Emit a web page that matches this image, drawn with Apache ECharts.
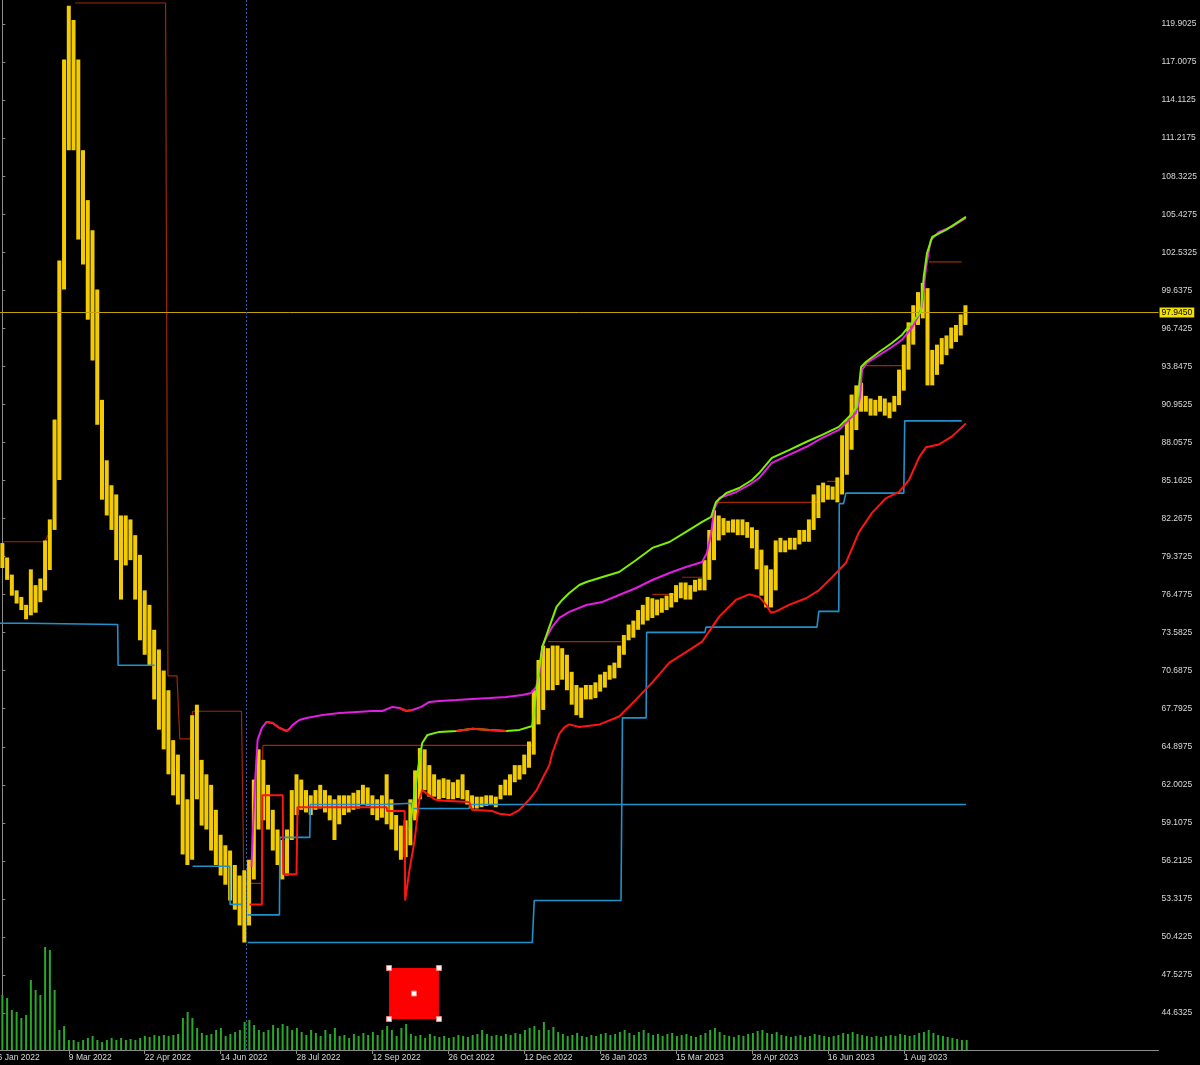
<!DOCTYPE html>
<html>
<head>
<meta charset="utf-8">
<script src="https://cdn.jsdelivr.net/npm/echarts@6/dist/echarts.min.js"></script>
<style>
html,body{margin:0;padding:0;background:#000;}
#c{width:1200px;height:1065px;}
</style>
</head>
<body>
<div id="c"></div>
<script>
// ---- price bars (one bar per slot, roughly two sessions each) ----
const priceHigh = [
 80.4,79.3,78.0,76.8,76.3,75.7,78.4,77.2,77.7,80.6,
 82.2,89.8,101.9,117.2,121.3,120.2,117.2,110.3,106.5,104.2,
 99.7,91.3,86.7,84.8,84.1,82.5,82.5,82.2,81.0,79.5,
 76.8,75.7,73.8,72.3,70.7,69.2,65.4,64.3,62.8,60.9,
 67.3,68.1,63.9,62.8,62.0,60.1,58.2,57.4,57.0,55.9,
 55.1,55.5,56.3,62.4,64.7,63.9,62.0,60.1,58.6,57.8,
 58.6,61.6,62.8,62.4,61.6,61.2,61.6,62.0,61.6,61.2,
 60.9,61.2,61.2,61.2,61.4,61.6,62.0,61.8,61.2,60.9,
 61.2,62.8,60.9,59.7,58.9,59.3,60.9,63.1,64.8,64.7,
 63.5,62.8,62.4,62.5,62.4,62.2,62.4,62.8,61.6,61.2,
 61.1,61.1,61.2,61.2,61.1,62.0,62.4,62.8,63.5,63.5,
 64.3,65.3,69.2,71.5,72.6,72.4,72.6,72.6,72.4,71.9,
 70.6,69.6,69.4,69.6,69.6,69.8,70.4,70.6,71.1,71.3,
 72.6,73.4,74.2,74.5,75.3,75.7,76.3,76.2,76.1,76.2,
 76.4,76.6,77.2,77.4,77.4,77.2,77.6,77.7,79.1,81.4,
 82.9,82.5,82.3,82.1,82.2,82.2,82.2,82.0,81.6,81.4,
 79.9,78.7,78.4,80.6,80.8,80.6,80.8,80.8,81.4,81.4,
 82.2,84.1,84.8,85.0,84.8,84.7,85.4,88.6,89.8,91.7,
 92.4,92.6,91.6,91.4,91.3,91.6,91.4,91.1,91.6,93.6,
 95.5,97.2,98.5,99.5,100.2,99.8,95.1,95.5,96.0,96.2,
 96.8,97.0,97.8,98.5
];
const priceLow = [
 78.5,77.6,76.4,75.8,75.3,74.6,74.9,75.1,75.9,76.8,
 78.35,81.4,85.2,99.7,110.3,110.3,103.5,101.6,97.4,94.3,
 89.4,83.7,82.5,81.4,79.1,76.1,78.7,79.1,76.1,73.0,
 71.9,71.1,68.5,66.2,64.7,62.8,61.2,60.5,56.7,55.9,
 56.3,60.9,58.9,58.6,57.0,55.9,55.1,54.4,53.2,52.5,
 51.3,50.0,51.3,54.8,58.6,59.3,58.6,57.0,55.9,54.8,
 55.1,57.8,59.7,60.1,59.9,59.7,60.1,60.2,59.9,59.3,
 57.8,59.0,59.7,59.9,60.1,60.2,60.5,60.4,59.7,59.3,
 59.5,59.0,58.6,57.0,56.3,56.5,57.4,59.3,60.9,61.6,
 61.1,61.1,60.9,61.0,60.9,60.9,61.0,60.9,60.5,60.2,
 60.2,60.3,60.4,60.5,60.3,60.9,61.2,61.2,62.2,62.4,
 62.8,63.3,64.3,66.6,67.7,69.2,69.2,69.6,70.0,69.2,
 68.1,67.3,67.1,68.5,68.5,68.6,69.1,69.4,70.0,70.1,
 70.9,71.9,73.0,73.2,73.8,74.2,74.5,74.7,74.9,75.1,
 75.3,75.5,75.9,76.2,76.1,76.1,76.7,76.8,76.8,77.6,
 79.1,80.6,81.0,81.2,81.2,81.0,81.0,80.8,80.0,78.4,
 76.4,75.5,75.5,76.8,79.7,79.7,79.9,79.9,80.3,80.5,
 80.5,81.4,82.3,83.5,83.7,83.7,83.5,84.1,85.6,87.5,
 89.0,90.4,90.4,90.1,90.1,90.4,90.1,89.9,90.4,90.9,
 92.0,93.6,95.5,97.0,97.5,92.4,92.4,93.2,94.0,94.7,
 95.2,95.7,96.2,97.0
];
const volume = [
 55,52,40,38,32,35,70,60,55,103,
 100,60,20,24,10,10,8,10,12,14,
 10,8,10,12,10,12,10,11,10,12,
 14,13,15,14,15,14,15,16,32,38,
 32,22,17,15,16,20,22,14,16,18,
 20,28,30,25,20,18,20,25,22,26,
 24,20,22,18,15,20,17,14,20,16,
 22,14,15,12,16,14,17,15,18,15,
 20,24,20,14,22,26,16,14,15,12,
 16,14,13,14,12,13,15,14,13,15,
 16,20,16,14,15,14,16,15,17,16,
 20,22,24,20,28,20,23,18,16,14,
 15,17,14,13,15,14,16,17,15,16,
 18,20,17,15,18,20,17,15,16,14,
 16,17,14,15,16,14,13,15,17,20,
 22,18,15,14,13,15,14,16,17,19,
 20,17,16,18,15,14,13,14,15,13,
 14,16,15,14,13,14,15,17,16,18,
 16,15,14,13,14,13,14,15,14,16,
 15,14,15,17,18,20,17,15,14,13,
 12,11,10,10
];
const lastPrice = 97.945;
const cursorIndex = 51.5;

// ---- axis ticks ----
const priceTicks = [44.6325,47.5275,50.4225,53.3175,56.2125,59.1075,62.0025,64.8975,67.7925,70.6875,
 73.5825,76.4775,79.3725,82.2675,85.1625,88.0575,90.9525,93.8475,96.7425,99.6375,
 102.5325,105.4275,108.3225,111.2175,114.1125,117.0075,119.9025];
const dateTickIndex = [14,30,46,62,78,94,110,126,142,158,174,190];
const dateTickLabels = ['9 Mar 2022','22 Apr 2022','14 Jun 2022','28 Jul 2022','12 Sep 2022',
 '26 Oct 2022','12 Dec 2022','26 Jan 2023','15 Mar 2023','28 Apr 2023','16 Jun 2023','1 Aug 2023'];
const firstTick = {index:-2, label:'26 Jan 2022'};

// ---- indicator lines: [bar index, price] ----
const resistanceSegments = [
 [[0.2,80.5],[9.0,80.5],[9.6,81.0]],
 [[15.3,121.5],[34.4,121.5],[34.9,70.3],[36.8,70.3],[37.4,65.5],[39.6,65.5],[40.1,67.6],[50.4,67.6],[50.9,54.5],[54.7,54.5],[54.9,65.0],[111.7,65.0]],
 [[115.0,72.9],[130.4,72.9]],
 [[137.0,76.5],[142.0,76.5]],
 [[143.3,77.8],[147.5,77.8]],
 [[150.4,83.5],[171.7,83.5]],
 [[173.8,85.1],[176.3,85.1]],
 [[181.0,93.9],[189.6,93.9]],
 [[195.3,101.8],[202.2,101.8]]
];
const supportSegments = [
 [[-0.5,74.3],[5.2,74.3],[5.5,74.2],[24.3,74.2],[24.4,71.1],[32.1,71.1]],
 [[40.1,55.8],[47.9,55.8],[48.0,52.9],[50.4,52.9]],
 [[51.7,52.1],[58.4,52.1],[58.5,58.0],[64.8,58.0],[64.9,60.5],[80.1,60.5],[80.2,60.6],[86.2,60.6],[86.3,60.2],[98.4,60.2],[98.5,60.5],[203.1,60.5]],
 [[51.7,50.0],[111.7,50.0],[112.1,53.2],[130.4,53.2],[130.7,67.1],[135.7,67.1],[135.8,73.6],[148.1,73.6],[148.3,74.0],[171.7,74.0],[172.1,75.2],[176.3,75.2],[176.4,83.4],[177.3,83.4],[177.8,84.2],[190.0,84.2],[190.2,89.7],[202.2,89.7]]
];
const trailRed = [[52.1,52.9],[54.7,52.9],[54.8,61.2],[59.1,61.2],[59.2,55.2],[62.0,55.2],[62.2,60.3],[81.0,60.3],[81.1,60.0],[84.8,60.0],[84.9,53.2],
 [85.8,55.5],[86.9,57.8],[87.9,60.9],[88.5,61.6],[90.0,61.2],[91.1,60.9],[92.1,60.8],[98.4,60.7],[99.0,60.1],[103.3,60.0],[104.8,59.8],[107.0,59.7],
 [109.0,60.1],[111.1,60.9],[112.6,61.6],[114.3,62.8],[115.3,63.5],[115.9,64.4],[117.4,65.9],[118.5,66.4],[119.5,66.6],[121.6,66.4],[125.9,66.6],
 [130.0,67.2],[133.6,68.5],[137.0,69.8],[140.6,71.3],[144.1,72.1],[147.5,72.9],[151.1,74.8],[154.7,76.1],[157.4,76.5],[159.5,76.3],[161.0,75.7],
 [162.0,75.1],[163.1,75.2],[165.8,75.7],[169.4,76.2],[172.1,76.8],[174.9,77.8],[177.8,78.9],[180.5,81.2],[183.3,82.7],[186.2,83.8],[189.0,84.3],
 [191.1,85.2],[193.2,86.9],[194.7,87.7],[197.4,87.9],[200.1,88.5],[203.1,89.5]];
const upperMagenta = [[52.5,55.75],[53.2,61.84],[53.8,65.42],[54.7,66.33],[55.7,66.79],[57.0,66.71],[58.4,66.33],[59.9,66.10],[60.5,66.26],[61.2,66.56],
 [62.6,66.94],[64.1,67.09],[67.5,67.32],[71.1,67.47],[74.7,67.55],[78.0,67.62],[80.1,67.62],[82.2,67.93],[83.7,67.85],[85.2,67.62],[86.4,67.70],
 [88.3,67.93],[90.0,68.31],[92.1,68.38],[95.7,68.46],[99.1,68.54],[102.7,68.61],[106.2,68.69],[109.6,68.84],[111.5,68.99],[112.5,69.45],[113.2,70.52],
 [113.8,72.49],[114.7,73.26],[115.9,74.02],[117.4,74.70],[119.5,75.16],[123.1,75.69],[126.5,75.92],[130.0,76.45],[133.6,76.98],[137.0,77.59],
 [140.6,78.12],[144.1,78.58],[147.5,78.96],[148.5,79.65],[149.4,81.17],[150.0,82.92],[151.1,83.83],[154.7,84.29],[157.4,84.82],[159.5,85.35],
 [162.2,86.50],[165.8,87.11],[169.4,87.71],[172.8,88.40],[176.3,89.01],[178.4,89.77],[179.9,90.30],[180.8,91.52],[181.2,93.57],[182.2,94.11],
 [184.8,94.71],[187.5,95.32],[189.6,95.86],[191.7,96.77],[193.2,97.76],[193.8,98.37],[194.7,101.41],[195.7,103.47],[197.4,104.08],[200.1,104.46],[203.1,105.14]];
const upperGreen = [[85.8,58.57],[86.9,61.38],[87.9,63.89],[88.5,65.19],[89.6,65.80],[92.1,66.03],[95.7,66.10],[99.1,66.26],[102.7,66.18],[106.2,66.10],
 [109.0,66.18],[111.7,66.48],[112.5,68.99],[113.2,70.97],[113.8,72.49],[115.3,74.02],[116.8,75.54],[118.0,76.07],[119.5,76.60],[121.6,77.21],
 [123.1,77.44],[126.5,77.82],[130.0,78.20],[133.6,79.11],[137.0,80.03],[140.6,80.48],[144.1,81.25],[147.5,82.01],[149.4,82.39],[150.4,83.53],
 [152.6,84.21],[155.3,84.59],[158.0,85.20],[159.5,85.73],[162.2,86.88],[165.8,87.48],[169.4,88.09],[172.8,88.63],[176.3,89.24],[178.4,89.99],
 [180.1,90.76],[181.0,93.80],[182.0,94.18],[184.8,94.94],[187.5,95.63],[189.6,96.24],[191.7,97.15],[193.6,97.99],[194.2,100.65],[194.9,102.48],
 [196.0,103.70],[198.9,104.23],[203.1,105.22]];
const bandRedParts = [
 [[55.7,66.79],[57.0,66.71],[58.4,66.33],[59.9,66.10],[60.5,66.26]],
 [[83.7,67.85],[85.2,67.62],[86.4,67.70]],
 [[95.7,66.10],[99.1,66.26],[102.7,66.18],[106.2,66.10]]
];
// drawing object (rectangle) in the volume pane: [bar index, volume]
const rectObject = [[81.4,82],[91.9,31]];

// ---------------------------------------------------------------
const bars = priceLow.map((lo, i) => [i, lo, priceHigh[i]]);
const vols = volume.map((v, i) => [i, v]);
const FONT = 'Liberation Sans, Arial, sans-serif';
const labelFont = {color:'#d8d8d8', fontSize:8.5, fontFamily:FONT};

function line(data, color, width, z) {
  return {type:'line', xAxisIndex:0, yAxisIndex:0, data:data, symbol:'none', showSymbol:false,
    lineStyle:{color:color, width:width}, z:z, silent:true, animation:false, clip:true};
}

const series = [];
resistanceSegments.forEach(s => series.push(line(s, '#a02800', 1.2, 1)));
series.push({
  type:'custom', xAxisIndex:0, yAxisIndex:0, data:bars, z:2, clip:true, silent:true,
  encode:{x:0, y:[1,2]},
  renderItem:function(params, api){
    const a = api.coord([api.value(0), api.value(1)]);
    const b = api.coord([api.value(0), api.value(2)]);
    return {type:'line', shape:{x1:a[0], y1:a[1], x2:b[0], y2:b[1]},
      style:{stroke:'#f2cc00', lineWidth:4}};
  }
});
supportSegments.forEach(s => series.push(line(s, '#1f92cc', 1.6, 3)));
series.push(line(trailRed, '#ff1414', 2, 4));
series.push(line(upperMagenta, '#e21ee2', 2, 4));
series.push(line(upperGreen, '#7ef000', 2, 5));
bandRedParts.forEach(s => series.push(line(s, '#ff1a1a', 2, 6)));

// price line + cursor line
const markHolder = line([], '#000', 0, 7);
markHolder.markLine = {
  silent:true, symbol:['none','none'], animation:false,
  data:[
    {yAxis:lastPrice, lineStyle:{color:'#c2a400', width:1, type:'solid'},
     label:{show:true, position:'end', distance:1, formatter:lastPrice.toFixed(4),
       backgroundColor:'#f2e000', color:'#000', padding:[1,2,0,2], fontSize:8.5, fontFamily:FONT}},
    {xAxis:cursorIndex, lineStyle:{color:'#2a5aa8', width:1, type:[2,2]}, label:{show:false}}
  ]
};
series.push(markHolder);

series.push({
  type:'bar', xAxisIndex:1, yAxisIndex:1, data:vols, barWidth:2, silent:true,
  itemStyle:{color:'#2aa82a'}, z:2, animation:false,
  markArea:{silent:true, itemStyle:{color:'#ff0000', opacity:1},
    data:[[{coord:rectObject[0]}, {coord:rectObject[1]}]]},
  markPoint:{silent:true, symbol:'rect', symbolSize:5, animation:false,
    itemStyle:{color:'#ffffff', borderColor:'#ff8080', borderWidth:1},
    label:{show:false},
    data:[
      {coord:[rectObject[0][0], rectObject[0][1]]},
      {coord:[rectObject[1][0], rectObject[0][1]]},
      {coord:[rectObject[0][0], rectObject[1][1]]},
      {coord:[rectObject[1][0], rectObject[1][1]]},
      {coord:[(rectObject[0][0]+rectObject[1][0])/2, (rectObject[0][1]+rectObject[1][1])/2]}
    ]}
});

const chart = echarts.init(document.getElementById('c'), null, {renderer:'canvas'});
chart.setOption({
  backgroundColor:'#000000',
  animation:false,
  grid:[
    {left:0, right:40, top:0, bottom:15},
    {left:0, right:40, top:940, bottom:15}
  ],
  xAxis:[
    {type:'value', gridIndex:0, min:-0.5, max:243.7,
     axisLine:{show:true, lineStyle:{color:'#8c8c8c', width:1}},
     axisTick:{show:true, customValues:dateTickIndex, length:4, lineStyle:{color:'#8c8c8c'}},
     axisLabel:Object.assign({show:true, customValues:dateTickIndex, align:'left', margin:3,
       formatter:function(v){ const k = dateTickIndex.indexOf(v); return k >= 0 ? dateTickLabels[k] : ''; }}, labelFont),
     splitLine:{show:false}},
    {type:'value', gridIndex:1, min:-0.5, max:243.7, show:false, splitLine:{show:false}}
  ],
  yAxis:[
    {type:'value', gridIndex:0, position:'right', min:41.82, max:121.73,
     axisLine:{show:true, lineStyle:{color:'#8c8c8c', width:1}},
     axisTick:{show:true, customValues:priceTicks, length:3, lineStyle:{color:'#8c8c8c'}},
     axisLabel:Object.assign({show:true, customValues:priceTicks, margin:3,
       formatter:function(v){ return v.toFixed(4); }}, labelFont),
     splitLine:{show:false}},
    {type:'value', gridIndex:1, min:0, max:110, show:false, splitLine:{show:false}}
  ],
  series:series
});

// first date label lies just left of the visible range; place it at its axis position so it is clipped like the original
const fx = chart.convertToPixel({xAxisIndex:0}, firstTick.index);
const gy = chart.convertToPixel({yAxisIndex:0}, 41.82);
chart.setOption({graphic:[{type:'text', x:fx, y:gy + 3,
  style:{text:firstTick.label, fill:labelFont.color, fontSize:8.5, fontFamily:FONT, align:'left', verticalAlign:'top'}}]});
</script>
</body>
</html>
